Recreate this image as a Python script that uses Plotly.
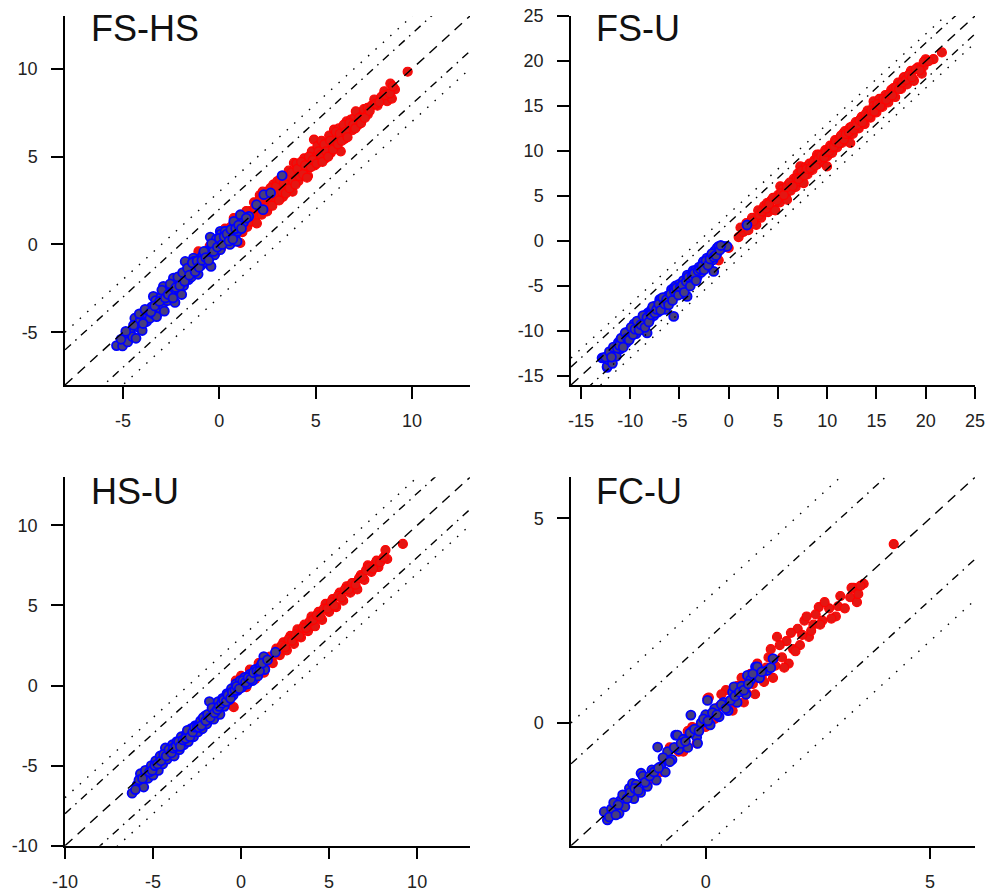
import plotly.graph_objects as go

# ---------------- data ----------------
PANEL_TITLES = ["FS-HS", "FS-U", "HS-U", "FC-U"]
LINE_OFFSETS = [0, 2, -2, 3, -3]

P1_BLUE = [(-5.33, -5.76), (-5.02, -5.78), (-4.9, -5.3), (-4.75, -5.55), (-4.62, -5.0), (-4.5, -5.25), (-4.38, -4.2),
           (-4.32, -5.34), (-4.22, -4.7), (-4.1, -4.3), (-4.0, -4.9), (-3.92, -4.05), (-3.77, -4.39), (-3.7, -3.75),
           (-3.6, -4.2), (-3.5, -3.55), (-3.42, -3.95), (-3.42, -2.96), (-3.3, -3.2), (-3.25, -4.11), (-3.15, -3.6),
           (-3.02, -3.0), (-2.95, -3.45), (-2.9, -2.39), (-2.85, -3.8), (-2.75, -2.7), (-2.7, -3.2), (-2.6, -2.55),
           (-2.52, -3.0), (-2.45, -2.4), (-2.38, -1.92), (-2.35, -2.75), (-2.3, -3.3), (-2.2, -2.2), (-2.1, -2.6),
           (-2.0, -2.05), (-1.95, -2.85), (-1.85, -2.35), (-1.77, -0.97), (-1.7, -1.65), (-1.6, -2.0), (-1.5, -1.3),
           (-1.45, -1.85), (-1.35, -1.6), (-1.34, -0.78), (-1.3, -0.95), (-1.2, -1.35), (-1.1, -1.7), (-1.0, -0.8),
           (-0.95, -1.2), (-0.85, -0.6), (-0.75, -1.0), (-0.6, -0.35), (-0.47, 0.42), (-0.43, -1.25), (-0.35, -0.2),
           (-0.25, -0.6), (-0.15, 0.3), (-0.05, 0.0), (0.05, -0.3), (0.05, 0.74), (0.1, 0.6), (0.2, 0.15), (0.3, 0.75),
           (0.45, 0.35), (0.55, 0.0), (0.65, 0.5), (0.75, 1.31), (0.83, 0.55), (0.92, 0.17), (0.95, 0.75), (1.09, 1.69),
           (1.25, 1.25), (1.53, 1.6), (1.93, 2.26), (2.27, 1.98), (2.31, 2.83), (2.66, 2.93), (3.26, 3.92),
           (-5.1, -5.4), (-4.85, -4.95), (-4.45, -4.6), (-4.15, -3.95), (-3.95, -4.5), (-3.85, -3.7), (-3.55, -3.85),
           (-3.35, -3.5), (-3.1, -3.25), (-2.98, -2.6), (-2.8, -3.05), (-2.65, -2.85), (-2.55, -2.25), (-2.4, -3.05),
           (-2.25, -2.45), (-2.15, -1.85), (-2.05, -2.35), (-1.9, -1.6), (-1.8, -2.1), (-1.65, -1.35), (-1.55, -1.75),
           (-1.4, -1.05), (-1.25, -1.55), (-1.15, -0.95), (-1.05, -1.3), (-0.9, -0.9), (-0.8, -0.4), (-0.7, -0.75),
           (-0.55, -0.9), (-0.4, 0.05), (-0.3, -0.4), (-0.1, -0.15), (0.0, 0.35), (0.15, 0.0), (0.25, 0.45),
           (0.4, 0.6), (0.5, 0.2), (0.6, 0.85), (0.7, 0.3), (0.85, 0.9), (1.0, 1.1), (1.15, 0.9), (1.4, 1.5)]
P1_RED = [(-1.08, -0.4), (-0.7, -0.9), (-0.5, -0.1), (-0.2, -0.5), (0.1, -0.2), (0.3, 0.9), (0.5, 0.2), (0.75, 1.5),
          (0.8, 0.5), (1.0, 1.1), (1.09, 0.08), (1.2, 0.7), (1.3, 1.6), (1.45, 1.0), (1.6, 1.9), (1.7, 1.3), (1.8, 2.4),
          (1.9, 1.6), (2.0, 2.0), (2.1, 2.8), (2.2, 1.7), (2.3, 2.4), (2.48, 1.88), (2.5, 3.0), (2.6, 2.3), (2.7, 2.7),
          (2.8, 3.4), (2.9, 2.5), (3.0, 3.59), (3.05, 2.9), (3.2, 3.3), (3.3, 2.7), (3.4, 3.8), (3.5, 3.2), (3.6, 4.2),
          (3.7, 3.5), (3.8, 3.0), (3.87, 4.64), (3.9, 4.0), (4.0, 4.6), (4.1, 3.6), (4.2, 4.2), (4.3, 3.9), (4.4, 4.9),
          (4.5, 4.3), (4.6, 3.9), (4.7, 4.7), (4.8, 5.3), (4.91, 5.97), (4.95, 4.5), (5.0, 5.0), (5.09, 5.6), (5.2, 4.8),
          (5.3, 5.9), (5.4, 5.2), (5.5, 4.9), (5.6, 5.6), (5.7, 6.2), (5.78, 5.21), (5.8, 5.5), (5.95, 6.54), (6.0, 5.8),
          (6.1, 6.1), (6.2, 6.6), (6.3, 5.3), (6.4, 6.3), (6.5, 6.0), (6.6, 7.0), (6.7, 6.6), (6.82, 7.11), (6.9, 6.5),
          (7.0, 7.2), (7.08, 7.58), (7.17, 6.77), (7.4, 7.3), (7.5, 7.7), (7.69, 7.78), (7.7, 7.4), (7.9, 7.9),
          (8.04, 8.25), (8.2, 7.9), (8.4, 8.4), (8.56, 8.72), (8.7, 8.15), (8.87, 9.16), (8.95, 8.3), (9.11, 8.82),
          (9.77, 9.83),
          (0.0, 0.3), (0.2, 0.5), (0.4, 0.6), (0.6, 1.0), (0.9, 0.9), (1.1, 1.4), (1.25, 1.1), (1.4, 1.9), (1.55, 1.3),
          (1.65, 1.6), (1.85, 2.1), (1.95, 1.2), (2.05, 2.5), (2.15, 2.1), (2.25, 3.0), (2.4, 2.1), (2.55, 2.7),
          (2.65, 3.2), (2.75, 2.2), (2.85, 2.9), (2.95, 3.3), (3.1, 2.5), (3.15, 3.7), (3.25, 3.0), (3.35, 3.5),
          (3.45, 2.9), (3.55, 3.9), (3.65, 3.2), (3.75, 4.1), (3.85, 3.6), (3.95, 3.4), (4.05, 4.3), (4.15, 3.9),
          (4.25, 4.7), (4.35, 4.0), (4.45, 4.5), (4.55, 3.8), (4.65, 5.0), (4.75, 4.4), (4.85, 4.8), (5.05, 4.6),
          (5.15, 5.3), (5.25, 5.1), (5.35, 4.7), (5.45, 5.7), (5.55, 5.3), (5.65, 5.0), (5.75, 5.9), (5.9, 5.4),
          (6.05, 6.4), (6.15, 5.7), (6.25, 6.3), (6.35, 5.9), (6.45, 6.8), (6.55, 6.4), (6.65, 6.1), (6.75, 6.9),
          (6.95, 6.8), (7.05, 6.6), (7.25, 7.2), (7.35, 6.9), (7.55, 7.2), (7.8, 7.6), (8.1, 8.0), (8.3, 8.1),
          (8.6, 8.5), (8.85, 8.6), (9.0, 9.0)]

P2_BLUE = [(-12.85, -13.0), (-12.68, -13.0), (-12.34, -14.04), (-12.33, -13.93), (-12.2, -13.2), (-12.0, -12.6),
           (-11.8, -13.6), (-11.6, -12.1), (-11.49, -12.27), (-11.4, -12.8), (-11.2, -11.3), (-11.0, -12.0),
           (-10.98, -10.97), (-10.8, -11.5), (-10.6, -10.6), (-10.4, -11.3), (-10.2, -10.1), (-10.0, -10.7),
           (-9.8, -10.0), (-9.63, -9.67), (-9.6, -9.2), (-9.4, -10.3), (-9.2, -9.4), (-9.0, -8.9), (-8.8, -9.8),
           (-8.6, -8.6), (-8.4, -9.2), (-8.28, -10.22), (-8.2, -8.0), (-8.0, -8.7), (-7.94, -7.82), (-7.8, -7.6),
           (-7.6, -8.3), (-7.4, -7.2), (-7.2, -7.9), (-7.0, -6.5), (-6.93, -6.52), (-6.8, -7.3), (-6.6, -6.8),
           (-6.4, -7.6), (-6.2, -6.1), (-6.0, -6.7), (-5.8, -5.4), (-5.6, -6.2), (-5.58, -8.38), (-5.58, -5.22),
           (-5.4, -5.0), (-5.2, -5.8), (-5.0, -4.8), (-4.8, -5.5), (-4.6, -4.4), (-4.4, -5.2), (-4.22, -6.16),
           (-4.2, -3.8), (-4.0, -4.6), (-3.8, -4.2), (-3.6, -3.3), (-3.55, -4.3), (-3.38, -3.26), (-3.2, -4.0),
           (-3.0, -2.9), (-2.8, -3.5), (-2.6, -2.4), (-2.54, -2.27), (-2.4, -2.9), (-2.2, -1.9), (-2.0, -2.5),
           (-1.8, -1.7), (-1.6, -2.1), (-1.52, -3.38), (-1.4, -1.1), (-1.2, -1.4), (-1.18, -0.78), (-1.01, -0.59),
           (-0.6, -0.7), (-0.51, -0.6), (-0.17, -0.59), (1.86, 1.78),
           (-12.5, -12.9), (-12.1, -12.3), (-11.9, -12.9), (-11.7, -11.8), (-11.3, -11.9), (-11.1, -11.6),
           (-10.9, -10.8), (-10.7, -11.8), (-10.5, -10.2), (-10.3, -10.8), (-10.1, -11.0), (-9.9, -9.6),
           (-9.7, -10.4), (-9.5, -9.8), (-9.3, -8.9), (-9.1, -9.9), (-8.9, -9.3), (-8.7, -8.3), (-8.5, -9.6),
           (-8.3, -8.5), (-8.1, -9.0), (-7.9, -8.2), (-7.7, -7.3), (-7.5, -8.0), (-7.3, -7.6), (-7.1, -7.0),
           (-6.9, -7.7), (-6.7, -6.3), (-6.5, -7.0), (-6.3, -6.5), (-6.1, -7.1), (-5.9, -5.9), (-5.7, -6.6),
           (-5.5, -5.6), (-5.3, -5.2), (-5.1, -6.0), (-4.9, -5.1), (-4.7, -4.9), (-4.5, -5.7), (-4.3, -4.5),
           (-4.1, -4.0), (-3.9, -5.0), (-3.7, -3.9), (-3.5, -3.6), (-3.3, -4.4), (-3.1, -3.3), (-2.9, -3.1),
           (-2.7, -2.8), (-2.5, -3.2), (-2.3, -2.2), (-2.1, -2.7), (-1.9, -2.0), (-1.7, -1.4), (-1.5, -1.8),
           (-1.3, -1.6), (-0.9, -1.0), (-0.8, -0.5)]
P2_RED = [(-1.01, -2.15), (0.0, -0.78), (1.01, 0.44), (1.5, 1.0), (2.0, 1.2), (2.37, 2.56), (2.8, 1.8), (3.0, 3.4),
          (3.3, 2.6), (3.6, 3.9), (3.89, 4.22), (4.0, 3.2), (4.3, 4.5), (4.56, 3.48), (4.73, 3.41), (5.0, 5.1),
          (5.2, 4.3), (5.24, 6.07), (5.5, 5.8), (5.8, 4.9), (5.92, 4.59), (6.0, 6.2), (6.3, 5.6), (6.6, 6.9),
          (6.8, 6.0), (7.0, 7.5), (7.2, 6.6), (7.27, 8.29), (7.5, 7.1), (7.61, 6.44), (7.8, 8.2), (8.0, 7.4),
          (8.2, 8.6), (8.5, 7.9), (8.7, 9.0), (8.97, 9.59), (9.0, 8.5), (9.2, 9.6), (9.5, 8.9), (9.8, 10.1),
          (9.98, 8.29), (10.0, 9.4), (10.3, 10.6), (10.5, 9.8), (10.8, 11.2), (11.0, 10.4), (11.3, 11.5),
          (11.5, 10.9), (11.66, 12.0), (11.8, 12.2), (12.0, 11.4), (12.3, 12.6), (12.34, 10.89), (12.6, 11.9),
          (12.9, 13.2), (13.2, 12.5), (13.36, 13.48), (13.5, 13.8), (13.8, 13.0), (14.1, 14.5), (14.4, 13.7),
          (14.71, 15.51), (14.7, 15.0), (15.0, 14.3), (15.3, 15.8), (15.6, 14.9), (15.9, 16.2), (16.06, 15.89),
          (16.2, 15.4), (16.5, 16.8), (16.73, 17.0), (16.9, 16.0), (17.2, 17.6), (17.5, 16.9), (17.75, 18.1),
          (17.8, 18.2), (18.1, 17.4), (18.5, 18.9), (18.76, 17.92), (18.8, 17.8), (19.2, 19.3), (19.6, 18.6),
          (19.78, 19.4), (20.0, 20.2), (20.79, 20.22), (21.64, 20.96),
          (1.2, 1.5), (1.8, 2.0), (2.5, 2.2), (3.1, 2.9), (3.4, 3.3), (3.8, 3.6), (4.1, 4.1), (4.5, 4.8), (4.9, 4.5),
          (5.3, 5.3), (5.6, 5.1), (5.9, 6.0), (6.2, 6.5), (6.5, 6.1), (6.9, 7.0), (7.1, 6.9), (7.4, 7.8), (7.7, 7.3),
          (7.9, 8.0), (8.3, 8.1), (8.6, 8.7), (8.8, 8.4), (9.1, 9.1), (9.4, 9.5), (9.7, 9.3), (9.9, 9.9),
          (10.2, 10.0), (10.4, 10.4), (10.7, 10.5), (10.9, 11.0), (11.2, 10.9), (11.4, 11.7), (11.7, 11.3),
          (11.9, 11.9), (12.2, 12.1), (12.5, 12.7), (12.7, 12.4), (13.0, 12.9), (13.3, 13.4), (13.6, 13.2),
          (13.9, 14.1), (14.2, 13.9), (14.5, 14.5), (14.8, 14.4), (15.1, 15.2), (15.4, 15.0), (15.7, 15.8),
          (16.0, 15.7), (16.3, 16.3), (16.6, 16.2), (17.0, 17.1), (17.3, 16.9), (17.6, 17.6), (18.0, 17.9),
          (18.3, 18.5), (18.6, 18.2), (19.0, 19.1), (19.4, 19.0), (19.8, 19.9), (20.3, 20.0)]

P3_BLUE = [(-6.19, -6.72), (-5.9, -6.2), (-5.72, -5.51), (-5.53, -6.34), (-5.44, -5.3), (-5.3, -5.8), (-5.1, -5.0),
           (-5.0, -5.6), (-4.85, -4.7), (-4.7, -5.3), (-4.6, -4.4), (-4.45, -4.9), (-4.3, -3.9), (-4.2, -4.6),
           (-4.05, -4.2), (-3.9, -3.7), (-3.8, -4.4), (-3.65, -3.5), (-3.5, -4.0), (-3.4, -3.2), (-3.25, -3.7),
           (-3.1, -3.0), (-3.0, -3.5), (-2.85, -2.7), (-2.7, -3.2), (-2.6, -2.5), (-2.45, -2.9), (-2.3, -2.2),
           (-2.2, -2.7), (-2.05, -1.9), (-1.95, -2.4), (-1.8, -1.0), (-1.7, -1.7), (-1.55, -2.1), (-1.4, -1.3),
           (-1.3, -1.0), (-1.2, -1.8), (-1.05, -0.8), (-0.95, -1.3), (-0.8, -0.5), (-0.7, -0.9), (-0.55, -0.2),
           (-0.45, -0.6), (-0.3, 0.1), (-0.2, -0.3), (-0.05, 0.3), (0.05, -0.1), (0.2, 0.5), (0.35, 0.1), (0.5, 0.7),
           (0.65, 0.3), (0.8, 1.0), (0.95, 0.6), (1.1, 1.2), (1.29, 1.81), (1.35, 1.0), (1.95, 2.08),
           (-6.0, -6.5), (-5.8, -5.9), (-5.6, -5.8), (-5.2, -5.4), (-5.05, -5.3), (-4.9, -5.0), (-4.75, -4.9),
           (-4.55, -4.7), (-4.4, -4.3), (-4.25, -4.4), (-4.1, -4.0), (-3.95, -4.2), (-3.85, -3.9), (-3.7, -3.8),
           (-3.55, -3.5), (-3.45, -3.8), (-3.3, -3.4), (-3.15, -3.3), (-3.05, -2.8), (-2.9, -3.2), (-2.75, -2.9),
           (-2.65, -2.6), (-2.5, -2.6), (-2.4, -2.6), (-2.25, -2.5), (-2.15, -2.0), (-2.0, -2.2), (-1.9, -1.8),
           (-1.75, -2.0), (-1.65, -1.4), (-1.5, -1.7), (-1.35, -1.5), (-1.25, -1.3), (-1.1, -1.1), (-1.0, -0.9),
           (-0.85, -1.0), (-0.75, -0.6), (-0.6, -0.8), (-0.5, -0.4), (-0.35, -0.3), (-0.25, -0.05), (-0.1, -0.2),
           (0.1, 0.3), (0.25, 0.2), (0.4, 0.5), (0.55, 0.4), (0.7, 0.8), (0.9, 0.9), (1.05, 0.9), (1.2, 1.4),
           (1.5, 1.6)]
P3_RED = [(-0.42, -1.35), (-0.3, 0.3), (0.0, 0.6), (0.3, -0.1), (0.5, 1.0), (0.8, 0.4), (1.0, 1.4), (1.3, 0.8),
          (1.5, 1.7), (1.8, 1.4), (2.0, 2.3), (2.2, 1.9), (2.4, 2.7), (2.6, 2.2), (2.8, 3.1), (3.0, 2.6), (3.2, 3.5),
          (3.4, 3.0), (3.6, 3.8), (3.8, 3.4), (4.0, 4.3), (4.2, 3.7), (4.4, 4.6), (4.6, 4.1), (4.8, 5.1), (5.0, 4.6),
          (5.2, 5.4), (5.4, 4.9), (5.6, 5.8), (5.8, 5.3), (6.0, 6.2), (6.2, 5.8), (6.4, 6.4), (6.6, 6.0), (6.8, 6.9),
          (7.0, 6.6), (7.2, 7.5), (7.4, 7.1), (7.6, 7.6), (7.8, 7.4), (8.2, 8.46), (8.3, 7.9), (9.19, 8.84),
          (-0.1, 0.1), (0.2, 0.4), (0.4, 0.3), (0.65, 0.9), (0.9, 0.8), (1.15, 1.2), (1.4, 1.3), (1.65, 1.8),
          (1.9, 1.9), (2.1, 2.1), (2.3, 2.5), (2.5, 2.4), (2.7, 2.9), (2.9, 2.8), (3.1, 3.2), (3.3, 3.1), (3.5, 3.6),
          (3.7, 3.6), (3.9, 4.0), (4.1, 4.1), (4.3, 4.4), (4.5, 4.3), (4.7, 4.8), (4.9, 4.8), (5.1, 5.2), (5.3, 5.0),
          (5.5, 5.6), (5.7, 5.5), (5.9, 6.0), (6.1, 6.0), (6.3, 6.4), (6.5, 6.3), (6.7, 6.7), (6.9, 6.8), (7.1, 7.2),
          (7.3, 7.4), (7.5, 7.3), (7.7, 7.8), (7.9, 7.7), (8.1, 8.0)]

P4_BLUE = [(-2.26, -2.17), (-2.19, -2.37), (-2.1, -2.1), (-1.93, -2.21), (-1.9, -1.9), (-1.85, -1.76), (-1.8, -2.05),
           (-1.7, -1.6), (-1.63, -1.48), (-1.6, -1.85), (-1.55, -1.5), (-1.45, -1.7), (-1.44, -1.23), (-1.4, -1.3),
           (-1.3, -1.55), (-1.2, -1.15), (-1.1, -1.4), (-1.07, -0.59), (-1.0, -1.07), (-0.9, -1.2), (-0.85, -0.7),
           (-0.75, -0.9), (-0.67, -0.3), (-0.63, -0.3), (-0.6, -0.65), (-0.5, -0.4), (-0.4, -0.6), (-0.33, 0.19),
           (-0.3, -0.2), (-0.2, -0.35), (-0.18, -0.5), (-0.1, 0.0), (0.0, 0.2), (0.04, 0.55), (0.1, -0.05),
           (0.2, 0.35), (0.3, 0.15), (0.4, 0.5), (0.5, 0.3), (0.6, 0.75), (0.63, 0.88), (0.7, 0.5), (0.8, 0.9),
           (0.9, 0.7), (0.93, 1.16), (1.0, 1.05), (1.11, 1.37), (1.15, 1.37), (1.2, 1.1), (1.37, 1.28), (1.5, 1.57),
           (-2.15, -2.3), (-2.05, -1.95), (-2.0, -2.25), (-1.95, -2.0), (-1.75, -1.85), (-1.68, -1.7), (-1.58, -1.6),
           (-1.5, -1.65), (-1.35, -1.45), (-1.25, -1.3), (-1.15, -1.2), (-1.05, -1.1), (-0.95, -0.85), (-0.8, -0.95),
           (-0.7, -0.6), (-0.55, -0.5), (-0.45, -0.45), (-0.35, -0.25), (-0.25, -0.15), (-0.15, -0.2), (-0.05, 0.1),
           (0.05, 0.05), (0.15, 0.25), (0.25, 0.2), (0.35, 0.45), (0.45, 0.35), (0.55, 0.55), (0.65, 0.65),
           (0.75, 0.75), (0.85, 0.8), (0.95, 0.95), (1.05, 1.2), (1.25, 1.25), (1.45, 1.35)]
P4_RED = [(-1.5, -1.7), (-1.2, -1.3), (-0.9, -0.9), (-0.6, -0.7), (-0.4, -0.2), (-0.2, -0.5), (0.04, 0.6),
          (0.07, 0.62), (0.1, 0.0), (0.3, 0.4), (0.45, 0.8), (0.6, 0.3), (0.7, 0.9), (0.85, 0.5), (1.0, 1.2),
          (1.1, 0.7), (1.2, 1.3), (1.3, 1.0), (1.4, 1.6), (1.5, 1.1), (1.59, 2.1), (1.7, 1.6), (1.8, 2.0),
          (1.85, 1.45), (1.95, 1.8), (2.05, 2.3), (2.1, 1.9), (2.2, 2.5), (2.3, 2.1), (2.4, 2.4), (2.52, 2.83),
          (2.6, 2.5), (2.75, 2.8), (2.9, 2.6), (3.0, 3.1), (3.22, 3.07), (3.3, 3.3), (3.37, 2.95), (3.52, 3.4),
          (4.19, 4.37),
          (-1.3, -1.5), (-1.0, -1.2), (-0.8, -0.6), (-0.5, -0.7), (-0.3, -0.1), (0.0, -0.1), (0.2, 0.1), (0.35, 0.7),
          (0.5, 0.45), (0.65, 0.7), (0.8, 1.1), (0.9, 0.75), (1.05, 0.95), (1.15, 1.45), (1.25, 1.15), (1.35, 1.35),
          (1.45, 1.8), (1.55, 1.4), (1.65, 1.9), (1.75, 1.35), (1.9, 2.2), (2.0, 1.75), (2.15, 2.15), (2.25, 2.6),
          (2.35, 2.25), (2.45, 2.65), (2.55, 2.4), (2.65, 2.95), (2.8, 2.55), (2.95, 2.85), (3.1, 2.8), (3.25, 3.3),
          (3.4, 3.15), (3.45, 3.35)]

AXIS_RANGES = [[-8, 13], [-16, 25], [-10, 13], [-3, 6]]
TICK_VALUES = [[-5, 0, 5, 10], [-15, -10, -5, 0, 5, 10, 15, 20, 25], [-10, -5, 0, 5, 10], [0, 5]]
SERIES = [(P1_RED, P1_BLUE), (P2_RED, P2_BLUE), (P3_RED, P3_BLUE), (P4_RED, P4_BLUE)]

# ---------------- layout geometry ----------------
# the page body has an 8px margin, so the figure starts 8px right/down in the window
OFF = 8
W, H = 998 - OFF, 891 - OFF


def xd(a, b):
    return [(a - OFF) / W, (b - OFF) / W]


def yd(top, bottom):
    return [(H - (bottom - OFF)) / H, (H - (top - OFF)) / H]


XDOM = [xd(65, 470), xd(571, 975)]
YDOM = [yd(16, 385), yd(477.3, 845.7)]
TITLE_POS = [(89, 29), (594, 29), (89, 491), (594, 491)]

FONT = "Liberation Sans, Arial, Helvetica, sans-serif"
LINE_STYLES = {0: "10px,7px", 2: "8px,6px,1.5px,6px", -2: "8px,6px,1.5px,6px", 3: "1.5px,8.5px", -3: "1.5px,8.5px"}

fig = go.Figure()
layout = dict(width=W, height=H, margin=dict(l=0, r=0, t=0, b=0, autoexpand=False), paper_bgcolor="white",
              plot_bgcolor="white", showlegend=False, font=dict(family=FONT, color="#222"))
annotations = []

for i, (red, blue) in enumerate(SERIES):
    n = "" if i == 0 else str(i + 1)
    xa, ya = "x" + n, "y" + n
    row, col = divmod(i, 2)
    lo, hi = AXIS_RANGES[i]
    eps = (hi - lo) * 1e-4
    fig.add_trace(go.Scatter(
        x=[p[0] for p in red], y=[p[1] for p in red], mode="markers", xaxis=xa, yaxis=ya,
        marker=dict(size=9, color="rgb(228,22,18)", line=dict(color="rgb(255,0,0)", width=1.2))))
    fig.add_trace(go.Scatter(
        x=[p[0] for p in blue], y=[p[1] for p in blue], mode="markers", xaxis=xa, yaxis=ya,
        marker=dict(size=9, color="rgb(72,62,125)", line=dict(color="rgb(0,0,255)", width=1.8))))
    for off in LINE_OFFSETS:
        fig.add_trace(go.Scatter(
            x=[lo, hi], y=[lo + off, hi + off], mode="lines", xaxis=xa, yaxis=ya,
            line=dict(color="black", width=1.4, dash=LINE_STYLES[off]), hoverinfo="skip"))
    ticks = TICK_VALUES[i]
    common = dict(range=[lo - eps, hi + eps], tickvals=ticks, ticktext=[str(v) for v in ticks], showline=True,
                  linecolor="black", linewidth=1.5, ticks="outside", ticklen=12, tickwidth=1.5, tickcolor="black",
                  showgrid=False, zeroline=False, automargin=False, ticklabeloverflow="allow",
                  tickfont=dict(size=18, family=FONT, color="#222"))
    layout["xaxis" + n] = dict(domain=XDOM[col], anchor=ya, ticklabelstandoff=7, **common)
    layout["yaxis" + n] = dict(domain=YDOM[row], anchor=xa, ticklabelstandoff=10, **common)
    tx, ty = TITLE_POS[i]
    annotations.append(dict(text=PANEL_TITLES[i], x=(tx - OFF) / W, y=1 - (ty - OFF) / H, xref="paper",
                            yref="paper", xanchor="left", yanchor="middle", showarrow=False,
                            font=dict(size=36, family=FONT, color="#111")))

layout["annotations"] = annotations
fig.update_layout(**layout)
fig.write_html("out.html")
